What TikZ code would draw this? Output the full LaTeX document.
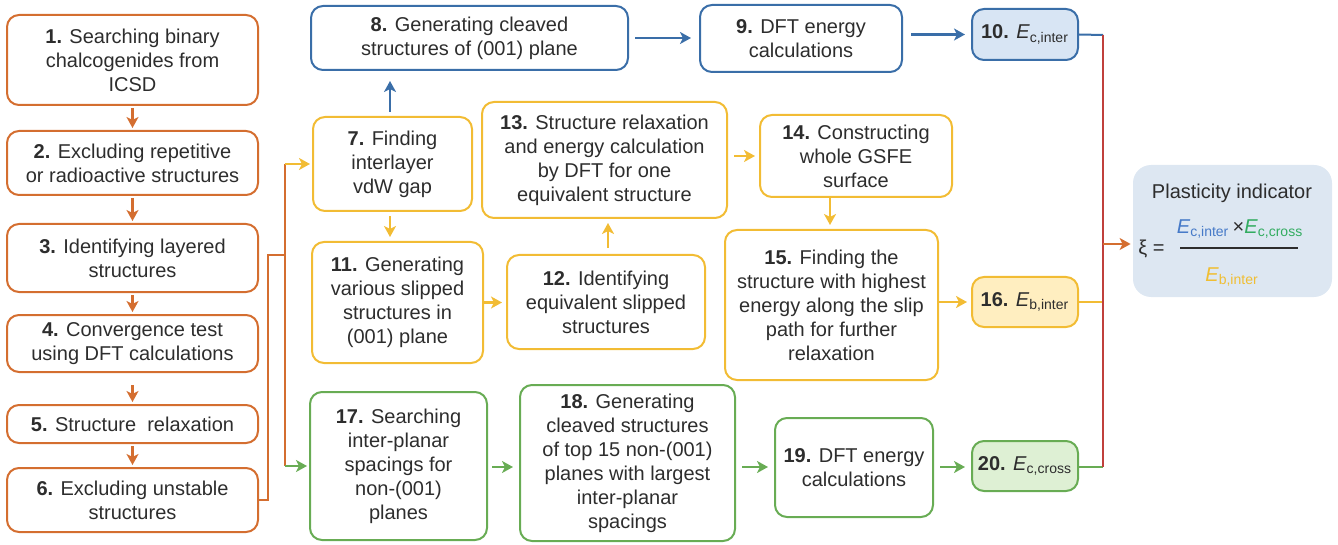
\documentclass[tikz,border=0pt]{standalone}
\usepackage{fontspec}
\setmainfont{Liberation Sans}
\usetikzlibrary{arrows.meta}
\definecolor{cor}{RGB}{212,110,48}
\definecolor{cbl}{RGB}{58,110,168}
\definecolor{cye}{RGB}{242,188,52}
\definecolor{cgr}{RGB}{104,172,84}
\definecolor{cred}{RGB}{192,64,60}
\definecolor{fbl}{RGB}{216,229,244}
\definecolor{fye}{RGB}{255,238,192}
\definecolor{fgr}{RGB}{222,240,212}
\definecolor{ffm}{RGB}{221,231,242}
\definecolor{ctx}{RGB}{45,45,45}
\definecolor{tbl}{RGB}{70,122,200}
\definecolor{tgr}{RGB}{50,172,96}
\definecolor{tye}{RGB}{240,190,50}
\newcommand{\Esub}[2]{\textit{#1}\textsubscript{#2}}
\begin{document}
\begin{tikzpicture}[x=0.5pt,y=-0.5pt,
  box/.style={draw, line width=1pt, rounded corners=6pt, align=center, inner sep=0pt,
    text=ctx, font=\fontsize{10}{12}\selectfont},
  obox/.style={box, draw=cor},
  bbox/.style={box, draw=cbl},
  ybox/.style={box, draw=cye},
  gbox/.style={box, draw=cgr},
  arr/.style={-{Stealth[length=5.5pt,width=6pt,inset=1.5pt]}, line width=1.1pt},
  ln/.style={line width=1pt}
]
\useasboundingbox (0,0) rectangle (1338,545);

% left column
\node[obox, minimum width=125.5pt, minimum height=45pt] (b1) at (132.5,60) {\textbf{1.} Searching binary\\chalcogenides from\\ICSD};
\node[obox, minimum width=125.5pt, minimum height=32pt] (b2) at (132.5,163) {\textbf{2.} Excluding repetitive\\or radioactive structures};
\node[obox, minimum width=125.5pt, minimum height=34pt] (b3) at (132.5,258) {\textbf{3.} Identifying layered\\structures};
\node[obox, minimum width=125.5pt, minimum height=28.5pt] (b4) at (132.5,343.5) {\textbf{4.} Convergence test\\using DFT calculations};
\node[obox, minimum width=125.5pt, minimum height=19pt] (b5) at (132.5,424) {\textbf{5.} Structure\ \ relaxation};
\node[obox, minimum width=125.5pt, minimum height=32pt] (b6) at (132.5,500) {\textbf{6.} Excluding unstable\\structures};

% blue row
\node[bbox, minimum width=158.5pt, minimum height=32pt] (b8) at (469.5,38) {\textbf{8.} Generating cleaved\\structures of (001) plane};
\node[bbox, minimum width=101pt, minimum height=33.5pt] (b9) at (801,38.5) {\textbf{9.} DFT energy\\calculations};
\node[bbox, fill=fbl, minimum width=53pt, minimum height=25.5pt] (b10) at (1025,34.5) {\textbf{10.} \Esub{E}{c,inter}};

% yellow part
\node[ybox, minimum width=79.5pt, minimum height=47pt] (b7) at (392.5,164) {\textbf{7.} Finding\\interlayer\\vdW gap};
\node[ybox, minimum width=85.5pt, minimum height=60.5pt] (b11) at (397.5,302.5) {\textbf{11.} Generating\\various slipped\\structures in\\(001) plane};
\node[ybox, minimum width=99pt, minimum height=47pt] (b12) at (606,302) {\textbf{12.} Identifying\\equivalent slipped\\structures};
\node[ybox, minimum width=122.5pt, minimum height=58pt] (b13) at (604.5,160) {\textbf{13.} Structure relaxation\\and energy calculation\\by DFT for one\\equivalent structure};
\node[ybox, minimum width=96pt, minimum height=41pt] (b14) at (856,156) {\textbf{14.} Constructing\\whole GSFE\\surface};
\node[ybox, minimum width=106.5pt, minimum height=75pt] (b15) at (831.5,305) {\textbf{15.} Finding the\\structure with highest\\energy along the slip\\path for further\\relaxation};
\node[ybox, fill=fye, minimum width=53pt, minimum height=25pt] (b16) at (1025,302) {\textbf{16.} \Esub{E}{b,inter}};

% green row
\node[gbox, minimum width=88.5pt, minimum height=74pt] (b17) at (398.5,466) {\textbf{17.} Searching\\inter-planar\\spacings for\\non-(001)\\planes};
\node[gbox, minimum width=107.5pt, minimum height=78pt] (b18) at (627.5,463) {\textbf{18.} Generating\\cleaved structures\\of top 15 non-(001)\\planes with largest\\inter-planar\\spacings};
\node[gbox, minimum width=79pt, minimum height=49.5pt] (b19) at (854,467.5) {\textbf{19.} DFT energy\\calculations};
\node[gbox, fill=fgr, minimum width=53pt, minimum height=25pt] (b20) at (1025,466) {\textbf{20.} \Esub{E}{c,cross}};

% formula box
\node[fill=ffm, rounded corners=9pt, minimum width=99.5pt, minimum height=66pt, inner sep=0pt] (bf) at (1232.5,231) {};
\node[text=ctx, font=\fontsize{10}{12}\selectfont] (ft) at (1232,193) {Plasticity indicator};
\node[text=ctx, font=\fontsize{10}{12}\selectfont, anchor=west, inner sep=0pt] (fxi) at (1138,249) {ξ =};
\node[font=\fontsize{10}{12}\selectfont, inner sep=0pt] (fnum) at (1240,229) {\textcolor{tbl}{\Esub{E}{c,inter}}\,\textcolor{ctx}{×}\textcolor{tgr}{\Esub{E}{c,cross}}};
\node[font=\fontsize{10}{12}\selectfont, inner sep=0pt, text=tye] (fden) at (1232,277) {\Esub{E}{b,inter}};
\coordinate (fl1) at (1180,248);
\coordinate (fl2) at (1298,248);
\draw[line width=0.9pt, ctx] (fl1) -- (fl2);

% left column arrows
\draw[arr, cor, shorten <=1pt, shorten >=1pt] (b1) -- (b2);
\draw[arr, cor, shorten <=1pt, shorten >=1pt] (b2) -- (b3);
\draw[arr, cor, shorten <=1pt, shorten >=1pt] (b3) -- (b4);
\draw[arr, cor, shorten <=6pt, shorten >=1pt] (b4) -- (b5);
\draw[arr, cor, shorten <=1pt, shorten >=1pt] (b5) -- (b6);

% branch from 6
\coordinate (k) at (268,255);
\coordinate (j) at (285,255);
\coordinate (j7) at (j |- b7.west);
\coordinate (j17) at (j |- b17.west);
\draw[ln, cor] (b6.east) -| (k) -- (j);
\draw[ln, cor] (j7) -- (j17);
\draw[arr, cye, shorten >=1pt] (j7) -- (b7.west);
\draw[arr, cgr, shorten >=1pt] (j17) -- (b17.west);

% blue arrows
\draw[arr, cbl, shorten <=2pt, shorten >=5pt] ([xshift=-1.25pt]b7.north) -- ([xshift=-1.25pt]b7.north |- b8.south);
\draw[arr, cbl, shorten <=3pt, shorten >=4pt] (b8.east) -- (b8.east -| b9.west);
\draw[arr, cbl, shorten <=4pt, shorten >=3pt] (b9.east |- b10.east) -- (b10.west);

% yellow arrows
\draw[arr, cye, shorten <=2pt, shorten >=2pt] ([xshift=-1.25pt]b7.south) -- ([xshift=-1.25pt]b7.south |- b11.north);
\draw[arr, cye, shorten >=2pt] (b11.east) -- (b11.east -| b12.west);
\draw[arr, cye, shorten <=3pt, shorten >=2pt] ([xshift=1pt]b12.north) -- ([xshift=1pt]b12.north |- b13.south);
\draw[arr, cye, shorten <=3pt, shorten >=2pt] (b13.east |- b14.west) -- (b14.west);
\draw[arr, cye, shorten <=0pt, shorten >=2pt] ([xshift=-13pt]b14.south) -- ([xshift=-13pt]b14.south |- b15.north);
\draw[arr, cye, shorten >=2pt] (b15.east |- b16.west) -- (b16.west);

% green arrows
\coordinate (gy) at (0,467);
\draw[arr, cgr, shorten <=2pt, shorten >=3pt] (b17.east |- gy) -- (b18.west |- gy);
\draw[arr, cgr, shorten <=3pt, shorten >=3pt] (b18.east |- gy) -- (b19.west |- gy);
\draw[arr, cgr, shorten <=3pt, shorten >=3pt] (b19.east |- gy) -- (b20.west |- gy);

% collector
\coordinate (r10) at (1103,35);
\coordinate (r16) at (1103,302);
\coordinate (r20) at (1103,467);
\coordinate (rf) at (1103,244);
\draw[ln, cbl] (b10.east) -- (r10);
\draw[ln, cye] (b16.east) -- (r16);
\draw[ln, cgr] (b20.east |- r20) -- (r20);
\draw[ln, cred] (r10) -- (r20);
\draw[arr, cor, shorten >=1pt] (rf) -- (rf -| bf.west);
\end{tikzpicture}
\end{document}
